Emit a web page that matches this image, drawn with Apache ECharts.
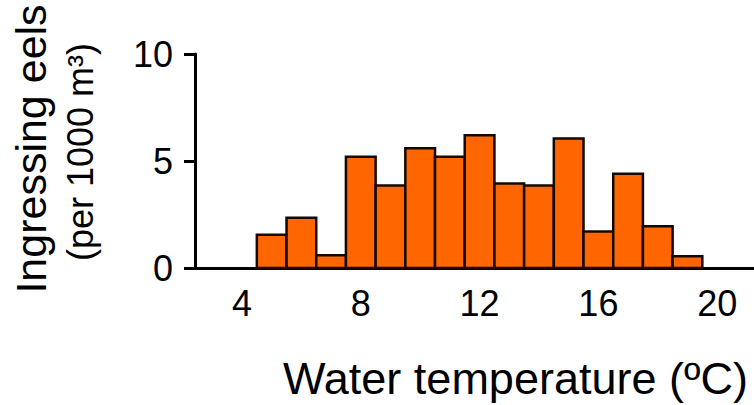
<!DOCTYPE html>
<html><head><meta charset="utf-8">
<script src="https://cdn.jsdelivr.net/npm/echarts@6/dist/echarts.min.js"></script>
<style>html,body{margin:0;padding:0;background:#fff}#c{width:754px;height:405px}</style>
</head><body><div id="c"></div>
<script>
// Data
const binCenters = [5, 6, 7, 8, 9, 10, 11, 12, 13, 14, 15, 16, 17, 18, 19];
const eelCounts = [1.55, 2.35, 0.6, 5.2, 3.85, 5.6, 5.2, 6.2, 3.95, 3.85, 6.05, 1.7, 4.4, 1.95, 0.55];
const binWidth = 1;
const xTickLabels = [4, 8, 12, 16, 20];
const yTickLabels = [0, 5, 10];
const xTitle = 'Water temperature (ºC)';
const yTitle1 = 'Ingressing eels';
const yTitle2 = '(per 1000 m³)';

const FONT = '"Liberation Sans", Arial, sans-serif';
const chart = echarts.init(document.getElementById('c'), null, {renderer: 'svg'});
const seriesData = binCenters.map((c, i) => [c, eelCounts[i]]);

chart.setOption({
  animation: false,
  backgroundColor: '#fff',
  grid: {left: 195, right: 0, top: 54, bottom: 137, containLabel: false},
  xAxis: {
    type: 'value', min: 2.418, max: 21.24,
    axisLine: {show: true, lineStyle: {color: '#000', width: 3}},
    axisTick: {show: false},
    splitLine: {show: false},
    axisLabel: {customValues: xTickLabels, fontSize: 36, margin: 17, color: '#000', fontFamily: FONT}
  },
  yAxis: {
    type: 'value', min: yTickLabels[0], max: yTickLabels[yTickLabels.length - 1], interval: 5,
    axisLine: {show: true, lineStyle: {color: '#000', width: 3}},
    axisTick: {show: true, length: 11, lineStyle: {color: '#000', width: 3}},
    splitLine: {show: false},
    axisLabel: {fontSize: 36, margin: 22, color: '#000', fontFamily: FONT}
  },
  series: [{
    type: 'custom',
    data: seriesData,
    renderItem: function (params, api) {
      const c = api.value(0), v = api.value(1);
      const p0 = api.coord([c - binWidth / 2, v]);
      const p1 = api.coord([c + binWidth / 2, 0]);
      return {
        type: 'rect',
        shape: {x: p0[0], y: p0[1], width: p1[0] - p0[0], height: p1[1] - p0[1]},
        style: {fill: '#ff6600', stroke: '#140800', lineWidth: 2.5}
      };
    }
  }],
  graphic: [
    {type: 'text', x: 31, y: 149, rotation: Math.PI / 2,
     style: {text: yTitle1, font: '43px ' + FONT, fill: '#000', align: 'center', verticalAlign: 'middle'}},
    {type: 'text', x: 80, y: 152, rotation: Math.PI / 2,
     style: {text: yTitle2, font: '36px ' + FONT, fill: '#000', align: 'center', verticalAlign: 'middle'}},
    {type: 'text', x: 283, y: 378,
     style: {text: xTitle, font: '45px ' + FONT, fill: '#000', align: 'left', verticalAlign: 'middle'}}
  ]
});
</script>
</body></html>
